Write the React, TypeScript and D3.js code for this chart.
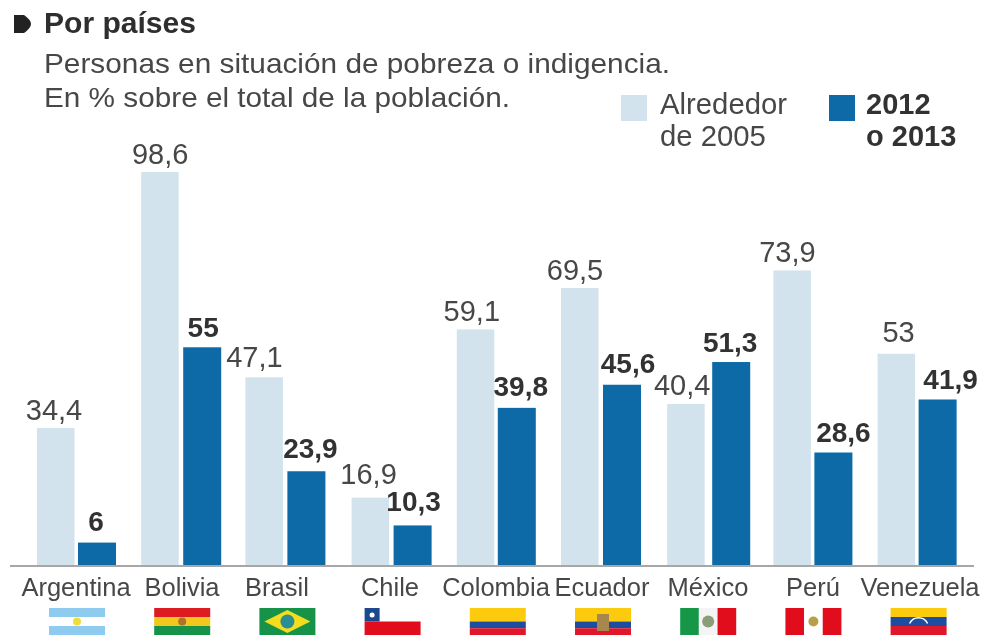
import React from "react";
import * as d3 from "d3";

const countries = ["Argentina","Bolivia","Brasil","Chile","Colombia","Ecuador","México","Perú","Venezuela"];
const values2005 = [34.4,98.6,47.1,16.9,59.1,69.5,40.4,73.9,53];
const values2013 = [6,55,23.9,10.3,39.8,45.6,51.3,28.6,41.9];
const labels2005 = ["34,4","98,6","47,1","16,9","59,1","69,5","40,4","73,9","53"];
const labels2013 = ["6","55","23,9","10,3","39,8","45,6","51,3","28,6","41,9"];

const W = 984, H = 636;
const LIGHT = "#d3e3ed", DARK = "#0a6ba6", TEXT = "#474747";
const FONT = "'Liberation Sans', Arial, sans-serif";

const x = d3.scaleBand<string>().domain(countries).range([24.4, 24.4 + 9 * 105.2]);
const y = d3.scaleLinear().domain([0, 98.6]).range([565, 172]);
const catX = [76, 182, 277, 390, 496, 602, 708, 813, 920];
// hand-placement offsets of the source graphic
const lightBarDx = [0, -1, -2, -1, -1, -2, -1, 0, -1];
const darkBarDx = [0, 0, -1, 0, -1, -1, 3, 0, -1];
const lightNudge = [-1, 0, -11, -2, -4, -6, -4, -4, 2];
const boldNudge = [-3, -1, 1, -1, 1, 3, 0, 8, 10];
const lightDy = [0, 0, -2, -6, 0, 0, -1, 0, -4];
const boldDy = [0, 1, -2, -3, 0, 0, 1.5, 1, 1];

function Flag({ name, cx }: { name: string; cx: number }) {
  const w = 56, h = 27, l = cx - w / 2, t = 608;
  const hs = (cols: string[], weights?: number[]) => {
    const ws = weights || cols.map(() => 1);
    const sum = d3.sum(ws);
    let acc = 0;
    return cols.map((c, i) => {
      const r = <rect key={i} x={l} y={t + (acc / sum) * h} width={w} height={(ws[i] / sum) * h} fill={c} />;
      acc += ws[i];
      return r;
    });
  };
  const vs = (cols: string[]) =>
    cols.map((c, i) => <rect key={i} x={l + (i * w) / cols.length} y={t} width={w / cols.length} height={h} fill={c} />);
  const mid = l + w / 2, my = t + h / 2;
  switch (name) {
    case "Argentina":
      return <g>{hs(["#8fcbee", "#ffffff", "#8fcbee"])}<circle cx={mid} cy={my} r={4} fill="#f2dc3a" /></g>;
    case "Bolivia":
      return <g>{hs(["#dd1a22", "#f3c81c", "#12924a"])}<circle cx={mid} cy={my} r={4} fill="#b3702a" /></g>;
    case "Brasil":
      return <g><rect x={l} y={t} width={w} height={h} fill="#12934a" />
        <polygon points={`${l + 5},${my} ${mid},${t + 2} ${l + w - 5},${my} ${mid},${t + h - 2}`} fill="#f5dc1e" />
        <circle cx={mid} cy={my} r={7} fill="#2a8f93" /></g>;
    case "Chile":
      return <g><rect x={l} y={t} width={w} height={h / 2} fill="#ffffff" />
        <rect x={l} y={my} width={w} height={h / 2} fill="#e2101e" />
        <rect x={l} y={t} width={15} height={h / 2} fill="#1c4a8e" />
        <circle cx={l + 7.5} cy={t + 7} r={2.5} fill="#ffffff" /></g>;
    case "Colombia":
      return <g>{hs(["#fdcb0a", "#1f4da0", "#e0162b"], [2, 1, 1])}</g>;
    case "Ecuador":
      return <g>{hs(["#fdcb0a", "#1f4da0", "#e0162b"], [2, 1, 1])}<rect x={mid - 6} y={t + 6} width={12} height={17} fill="#a8874f" /></g>;
    case "México":
      return <g>{vs(["#129647", "#f4f4f4", "#e2101e"])}<circle cx={mid} cy={my} r={6} fill="#8a9c78" /></g>;
    case "Perú":
      return <g>{vs(["#e2101e", "#ffffff", "#e2101e"])}<circle cx={mid} cy={my} r={5} fill="#b7a04a" /></g>;
    default:
      return <g>{hs(["#fdcb0a", "#1f4da0", "#e0162b"])}
        <path d={`M${mid - 9},${my + 2} A10,10 0 0 1 ${mid + 9},${my + 2}`} fill="none" stroke="#ffffff" strokeWidth={1.5} /></g>;
  }
}

export default function App() {
  return (
    <svg width={W} height={H} viewBox={`0 0 ${W} ${H}`} style={{ position: "absolute", left: 0, top: 0, background: "#fff" }} fontFamily={FONT}>
      <defs>
        <filter id="soft" x="-2%" y="-2%" width="104%" height="104%"><feGaussianBlur stdDeviation="0.55" /></filter>
      </defs>
      <g filter="url(#soft)">
        <path d="M14,15 L24,15 Q31,20 31,24 Q31,28 24,33 L14,33 Z" fill="#222" />
        <text x={44} y={33} fontSize={29.5} fontWeight={700} fill="#2e2e2e" textLength={152} lengthAdjust="spacingAndGlyphs">Por países</text>
        <text x={44} y={73} fontSize={28} fill={TEXT} textLength={626} lengthAdjust="spacingAndGlyphs">Personas en situación de pobreza o indigencia.</text>
        <text x={44} y={107} fontSize={28} fill={TEXT} textLength={466} lengthAdjust="spacingAndGlyphs">En % sobre el total de la población.</text>

        <rect x={621} y={95} width={26} height={26} fill={LIGHT} />
        <text x={660} y={114} fontSize={29.3} fill={TEXT}>Alrededor</text>
        <text x={660} y={146} fontSize={29.3} fill={TEXT}>de 2005</text>
        <rect x={829} y={95} width={26} height={26} fill={DARK} />
        <text x={866} y={114} fontSize={29} fontWeight={700} fill="#333">2012</text>
        <text x={866} y={146} fontSize={29} fontWeight={700} fill="#333">o 2013</text>

        {countries.map((c, i) => {
          const cx = x(c)! + x.bandwidth() / 2;
          const darkTop = y(values2013[i]) + 1.5;
          return (
            <g key={c}>
              <rect x={cx - 40 + lightBarDx[i]} y={y(values2005[i])} width={37.5} height={y(0) - y(values2005[i])} fill={LIGHT} />
              <rect x={cx + 1 + darkBarDx[i]} y={darkTop} width={38} height={y(0) - darkTop} fill={DARK} />
              <text x={cx - 22 + lightNudge[i]} y={y(values2005[i]) - 8 + lightDy[i]} textAnchor="middle" fontSize={29} fill={TEXT}>{labels2005[i]}</text>
              <text x={cx + 22 + boldNudge[i]} y={y(values2013[i]) - 10 + boldDy[i]} textAnchor="middle" fontSize={28} fontWeight={700} fill="#333">{labels2013[i]}</text>
              <text x={catX[i]} y={596} textAnchor="middle" fontSize={25.5} fill={TEXT}>{c}</text>
              <Flag name={c} cx={cx} />
            </g>
          );
        })}
        <line x1={10} x2={974} y1={566} y2={566} stroke="#8a8a8a" strokeWidth={1.5} />
      </g>
    </svg>
  );
}
